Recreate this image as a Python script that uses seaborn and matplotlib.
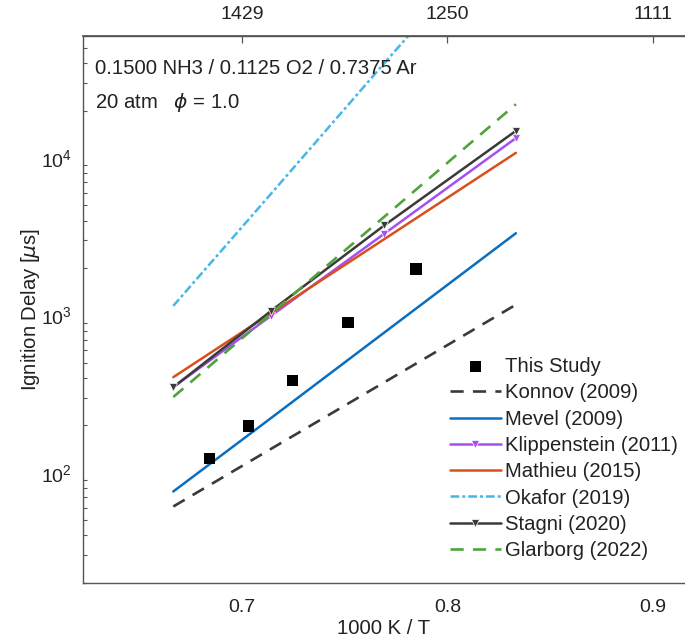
import numpy as np
import pandas as pd
import matplotlib
matplotlib.use("Agg")
import matplotlib.pyplot as plt
from matplotlib.ticker import FixedLocator, LogLocator, NullFormatter
import seaborn as sns

# ---- data ----
temps_model = [1500, 1400, 1300, 1200]           # K
konnov = [61, 142, 375, 1170]
mevel = [76, 223, 777, 3330]
klippenstein = [350, 996, 3300, 13400]
mathieu = [405, 1035, 3050, 10800]
okafor = [1150, 5950, 40000, 360000]
stagni = [350, 1070, 3730, 14900]
glarborg = [303, 1030, 4230, 22000]

exp_invT = [0.6842, 0.7032, 0.7246, 0.7516, 0.7847]   # 1000 K / T
exp_tau = [123, 198, 386, 903, 1980]                  # microseconds

x_ticks = [0.7, 0.8, 0.9]
y_ticks = [1e2, 1e3, 1e4]

sns.set_theme(style="white")
plt.rcParams["font.family"] = ["Liberation Sans", "DejaVu Sans"]
plt.rcParams["mathtext.fontset"] = "dejavusans"

FS = 14.6
TXT = "#222222"

fig = plt.figure(figsize=(6.85, 6.43), dpi=100)
ax = fig.add_axes([82.7 / 685, 1 - 582.7 / 643, (685 - 82.7) / 685, (582.7 - 35.7) / 643])

inv_model = [1000.0 / t for t in temps_model]

series = [
    ("Konnov (2009)", konnov, dict(color="#3a3a3a", linestyle=(0, (5, 3.5)), lw=1.9)),
    ("Mevel (2009)", mevel, dict(color="#0a6fc0", linestyle="-", lw=1.8)),
    ("Klippenstein (2011)", klippenstein, dict(color="#a64ff0", linestyle="-", lw=1.8,
                                               marker="v", markersize=5.5, markeredgewidth=0.5)),
    ("Mathieu (2015)", mathieu, dict(color="#d9501c", linestyle="-", lw=1.8)),
    ("Okafor (2019)", okafor, dict(color="#45b8e8", linestyle=(0, (3.5, 1.2, 1.2, 1.2)), lw=1.8)),
    ("Stagni (2020)", stagni, dict(color="#3a3a3a", linestyle="-", lw=1.8,
                                   marker="v", markersize=5.5, markeredgewidth=0.5)),
    ("Glarborg (2022)", glarborg, dict(color="#4fa33a", linestyle=(0, (5, 3.5)), lw=1.9)),
]

sns.scatterplot(x=exp_invT, y=exp_tau, ax=ax, marker="s", s=70, color="black",
                edgecolor="none", label="This Study", zorder=5)

for name, vals, kw in series:
    df = pd.DataFrame({"x": inv_model, "y": vals})
    sns.lineplot(data=df, x="x", y="y", ax=ax, label=name, sort=False, **kw)

ax.set_yscale("log")
ax.set_xlim(0.6226, 0.9156)
ax.set_ylim(20, 6e4)

ax.xaxis.set_major_locator(FixedLocator(x_ticks))
ax.set_xticklabels([f"{v:.1f}" for v in x_ticks])
ax.yaxis.set_major_locator(FixedLocator(y_ticks))
ax.yaxis.set_minor_locator(LogLocator(base=10, subs=np.arange(2, 10)))
ax.yaxis.set_minor_formatter(NullFormatter())

spine_c = "#555555"
for side in ["left", "bottom", "top"]:
    ax.spines[side].set_color(spine_c)
    ax.spines[side].set_linewidth(1.0)
ax.spines["right"].set_visible(False)

ax.tick_params(axis="both", which="major", direction="in", length=5, width=0.9,
               color=spine_c, labelsize=14, labelcolor=TXT)
ax.tick_params(axis="x", which="major", pad=12)
ax.tick_params(axis="y", which="major", pad=8)
ax.tick_params(axis="y", which="minor", direction="in", length=3, width=0.8, color=spine_c,
               left=True)
ax.tick_params(axis="x", which="minor", bottom=False)

ax.set_xlabel("1000 K / T", fontsize=FS, color=TXT, labelpad=2)
ax.set_ylabel(r"Ignition Delay [$\mu$s]", fontsize=FS, color=TXT, labelpad=-1)

sec = ax.secondary_xaxis("top")
sec.xaxis.set_major_locator(FixedLocator(x_ticks))
sec.set_xticklabels([f"{1000 / v:.0f}" for v in x_ticks])
sec.tick_params(direction="in", length=5, width=0.9, color=spine_c, labelsize=14,
                labelcolor=TXT, pad=9)
sec.spines["top"].set_color(spine_c)

fig.text(95 / 685, 1 - 69 / 643, "0.1500 NH3 / 0.1125 O2 / 0.7375 Ar", fontsize=FS,
         color=TXT, va="center", ha="left")
fig.text(95 / 685, 1 - 102 / 643, r"20 atm   $\phi$ = 1.0", fontsize=FS,
         color=TXT, va="center", ha="left")

handles, labels = ax.get_legend_handles_labels()
leg = ax.legend(handles, labels, loc="upper left", frameon=False, fontsize=FS,
                bbox_to_anchor=(450 / 685, 1 - 357 / 643), bbox_transform=fig.transFigure,
                borderpad=0, borderaxespad=0, handlelength=2.5, handletextpad=0.2,
                labelspacing=0.36, labelcolor=TXT)

fig.savefig("out.png", dpi=100, facecolor="white")
